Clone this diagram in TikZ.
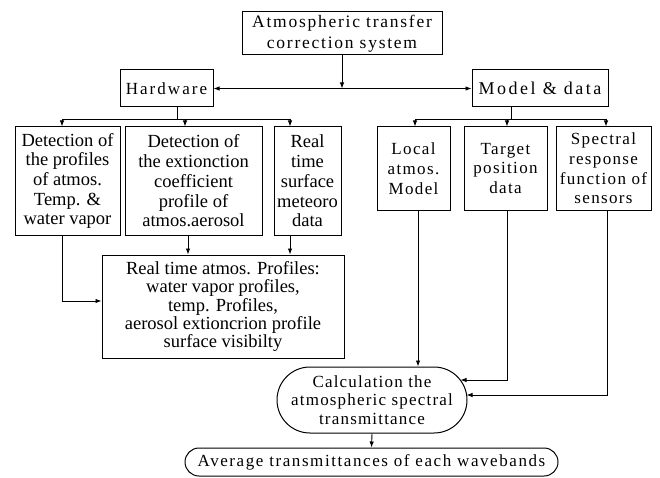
\documentclass[tikz,border=0pt]{standalone}
\usepackage{fontspec}
\setmainfont{Liberation Serif}
\usetikzlibrary{arrows.meta,shapes.misc,calc}
\begin{document}
\begin{tikzpicture}[x=1pt,y=-1pt,
  box/.style={draw,line width=1pt,inner sep=0pt,align=center,font=\fontsize{18.5}{19.7}\selectfont},
  realf/.style={font=\fontsize{18.5}{18.3}\selectfont},
  topf/.style={font=\fontsize{17.5}{21}\selectfont\addfontfeature{LetterSpace=10}},
  mdf/.style={font=\fontsize{18}{20}\selectfont\addfontfeature{LetterSpace=14}},
  hwf/.style={font=\fontsize{17}{20}\selectfont\addfontfeature{LetterSpace=12}},
  rf/.style={font=\fontsize{17}{19.7}\selectfont\addfontfeature{LetterSpace=8}},
  calcf/.style={font=\fontsize{17}{18.5}\selectfont\addfontfeature{LetterSpace=7}},
  avgf/.style={font=\fontsize{17}{18.5}\selectfont\addfontfeature{LetterSpace=9.3}},
  oval/.style={box,rounded rectangle},
  ln/.style={line width=0.9pt},
  arr/.style={ln,-{Latex[length=6pt,width=4.5pt]}},
  darr/.style={ln,{Latex[length=6pt,width=4.5pt]}-{Latex[length=6pt,width=4.5pt]}}]
\useasboundingbox (0,0) rectangle (660,478);

\node[box,topf,minimum width=200pt,minimum height=43pt] (top) at (342,33.5) {Atmospheric transfer\\correction system};
\node[box,hwf,minimum width=93pt,minimum height=37pt] (hw) at (166.5,88.5) {Hardware};
\node[box,mdf,minimum width=136pt,minimum height=37pt] (md) at (540,88.5) {Model \& data};

\node[box,minimum width=105pt,minimum height=108pt] (b1) at (67.5,181) {Detection of\\the profiles\\of atmos.\\Temp. \&\\water vapor};
\node[box,minimum width=137pt,minimum height=108pt] (b2) at (193.5,181) {Detection of\\the extionction\\coefficient\\profile of\\atmos.aerosol};
\node[box,minimum width=67pt,minimum height=108pt] (b3) at (307.5,181) {Real\\time\\surface\\meteoro\\data};

\node[box,rf,minimum width=73pt,minimum height=83pt] (r1) at (413.5,168.5) {Local\\atmos.\\Model};
\node[box,rf,minimum width=83pt,minimum height=83pt] (r2) at (505.5,168.5) {Target\\position\\data};
\node[box,rf,minimum width=95pt,minimum height=83pt] (r3) at (603.5,168.5) {Spectral\\response\\function of\\sensors};

\node[box,realf,minimum width=242pt,minimum height=103pt] (real) at (223,306.5) {Real time atmos. Profiles:\\water vapor profiles,\\temp. Profiles,\\aerosol extioncrion profile\\surface visibilty};

\node[oval,calcf,minimum width=190pt,minimum height=66pt] (calc) at (372,400) {Calculation the\\atmospheric spectral\\transmittance};
\node[oval,avgf,minimum width=373pt,minimum height=28pt] (avg) at (371.5,462) {Average transmittances of each wavebands};

% top level
\draw[arr] (top.south) -- (top.south |- hw.east);
\draw[darr] (hw.east) -- (md.west);

% hardware branch
\coordinate (hwj) at (177,119);
\coordinate (hl) at (62,119);
\coordinate (hm) at (185,119);
\coordinate (hr) at (290,119);
\draw[ln] (hw.south -| hwj) -- (hwj);
\draw[ln] (hl) -- (hr);
\draw[arr] (hl) -- (b1.north -| hl);
\draw[arr] (hm) -- (b2.north -| hm);
\draw[arr] (hr) -- (b3.north -| hr);

% model branch
\coordinate (mdj) at (511,119);
\coordinate (ml) at (415,119);
\coordinate (mm) at (507,119);
\coordinate (mr) at (606,119);
\draw[ln] (md.south -| mdj) -- (mdj);
\draw[ln] (ml) -- (mr);
\draw[arr] (ml) -- (r1.north -| ml);
\draw[arr] (mm) -- (r2.north -| mm);
\draw[arr] (mr) -- (r3.north -| mr);

% into real time box
\coordinate (b1o) at (62,301);
\coordinate (b2o) at (188,245);
\coordinate (b3o) at (290,245);
\draw[arr] (b1.south -| b1o) -- (b1o) -- (real.west |- b1o);
\draw[arr] (b2.south -| b2o) -- (real.north -| b2o);
\draw[arr] (b3.south -| b3o) -- (real.north -| b3o);

% into calculation
\coordinate (r1o) at (418,300);
\coordinate (r2o) at (507,380);
\coordinate (r3o) at (607,395);
\coordinate (c2) at (460.5,380);
\coordinate (c3) at (466.5,395);
\draw[arr] (r1.south -| r1o) -- (calc.north -| r1o);
\draw[arr] (r2.south -| r2o) -- (r2o) -- (c2);
\draw[arr] (r3.south -| r3o) -- (r3o) -- (c3);

\draw[arr] (calc.south) -- (avg.north);
\end{tikzpicture}
\end{document}
